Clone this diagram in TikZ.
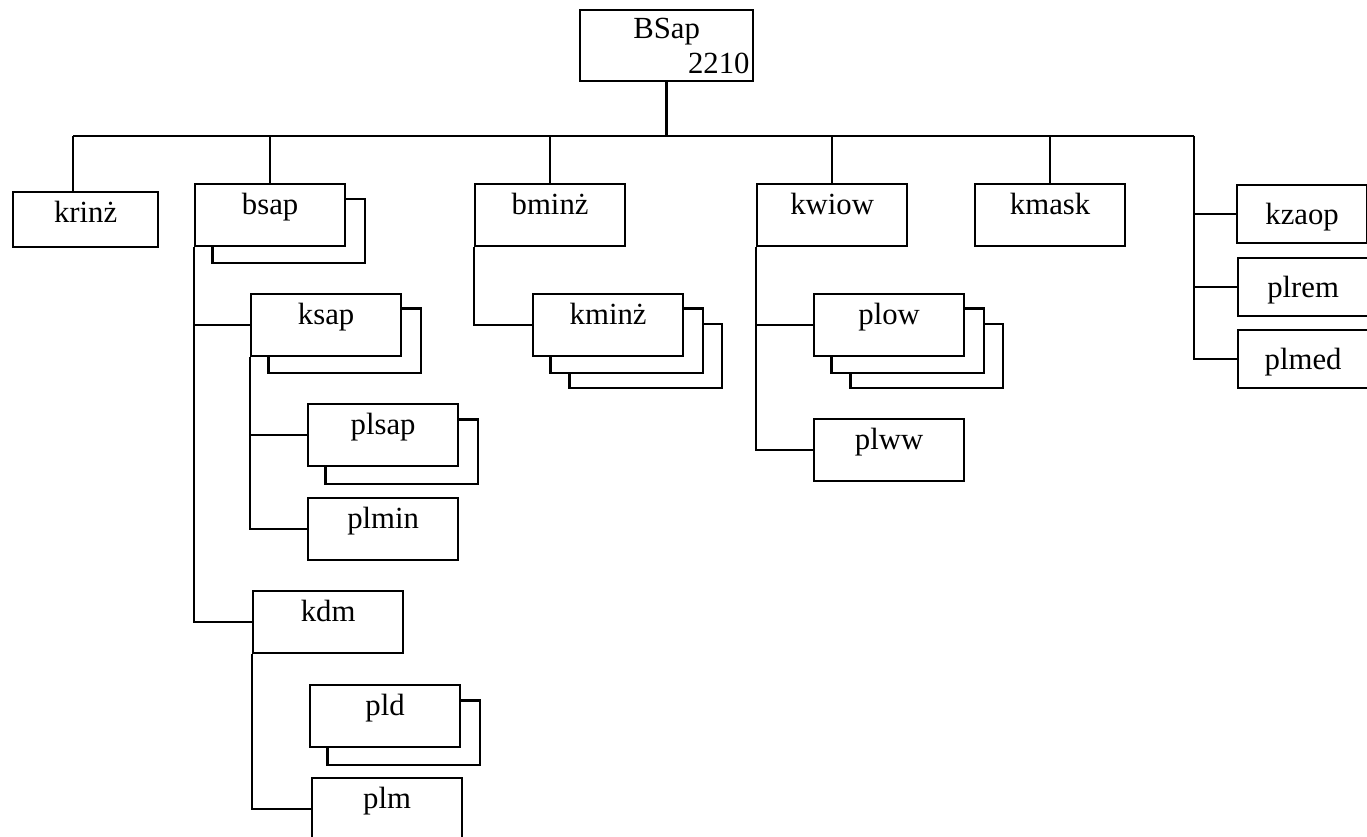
\documentclass[tikz,border=0pt]{standalone}
\usepackage{fontspec}
\setmainfont{Liberation Serif}
\usetikzlibrary{backgrounds}

\begin{document}
\begin{tikzpicture}[
    x=0.02cm, y=-0.02cm,
    line width=1.3pt,
    every node/.style={font=\fontsize{17.5}{19}\selectfont},
    unit/.style={rectangle, draw=black, fill=white, anchor=north west, inner sep=0pt, minimum width=3cm, minimum height=1.24cm, text height=0.6cm, text depth=0.64cm},
    rootbox/.style={unit, minimum width=3.46cm, minimum height=1.42cm, text height=0.56cm, text depth=0.86cm},
    sidebox/.style={unit, minimum width=2.6cm, minimum height=1.16cm, text height=0.78cm, text depth=0.38cm},
    copybox/.style={draw=black, fill=white, line width=1.3pt}
]
    \useasboundingbox (0,0) rectangle (1367,837);
    \clip (0,0) rectangle (1367,837);

    \node[rootbox, label={[anchor=south east, inner xsep=2pt, inner ysep=4pt]south east:2210}] (root) at (579,9) {BSap};

    \node[unit, minimum width=2.9cm, minimum height=1.1cm, text depth=0.5cm] (krinz) at (12,191) {krinż};
    \node[unit] (bsap) at (194,183) {bsap};
    \node[unit] (bminz) at (474,183) {bminż};
    \node[unit] (kwiow) at (756,183) {kwiow};
    \node[unit] (kmask) at (974,183) {kmask};
    \node[sidebox] (kzaop) at (1236,184) {kzaop};
    \node[sidebox] (plrem) at (1237,257) {plrem};
    \node[sidebox] (plmed) at (1237,329) {plmed};

    \node[unit] (ksap) at (250,293) {ksap};
    \node[unit] (plsap) at (307,403) {plsap};
    \node[unit] (plmin) at (307,497) {plmin};
    \node[unit] (kdm) at (252,590) {kdm};
    \node[unit] (pld) at (309,684) {pld};
    \node[unit] (plm) at (311,777) {plm};

    \node[unit] (kminz) at (532,293) {kminż};
    \node[unit] (plow) at (813,293) {plow};
    \node[unit] (plww) at (813,418) {plww};

    % stacked copies behind the boxes
    \begin{scope}[on background layer]
        \draw[copybox] ([shift={(18.5,16)}]bsap.north west) rectangle ([shift={(18.5,16)}]bsap.south east);
        \draw[copybox] ([shift={(18.5,15.5)}]ksap.north west) rectangle ([shift={(18.5,15.5)}]ksap.south east);
        \draw[copybox] ([shift={(18.5,16.5)}]plsap.north west) rectangle ([shift={(18.5,16.5)}]plsap.south east);
        \draw[copybox] ([shift={(18.5,16.5)}]pld.north west) rectangle ([shift={(18.5,16.5)}]pld.south east);
        \draw[copybox] ([shift={(37.5,31)}]kminz.north west) rectangle ([shift={(37.5,31)}]kminz.south east);
        \draw[copybox] ([shift={(18.5,15.5)}]kminz.north west) rectangle ([shift={(18.5,15.5)}]kminz.south east);
        \draw[copybox] ([shift={(37.5,31)}]plow.north west) rectangle ([shift={(37.5,31)}]plow.south east);
        \draw[copybox] ([shift={(18.5,15.5)}]plow.north west) rectangle ([shift={(18.5,15.5)}]plow.south east);
    \end{scope}

    % main bus
    \coordinate (busL) at (73,136);
    \coordinate (busR) at (1194,136);
    \draw (busL) -- (busR);
    \draw (root.south) -- (root.south |- busL);
    \draw (busL) -- (busL |- krinz.north);
    \draw (bsap.north) -- (bsap.north |- busL);
    \draw (bminz.north) -- (bminz.north |- busL);
    \draw (kwiow.north) -- (kwiow.north |- busL);
    \draw (kmask.north) -- (kmask.north |- busL);

    % right column
    \draw (busR) |- (plmed.west);
    \draw (busR |- kzaop.west) -- (kzaop.west);
    \draw (busR |- plrem.west) -- (plrem.west);

    % bsap branch
    \draw (bsap.south west) |- (kdm.west);
    \draw (bsap.south west |- ksap.west) -- (ksap.west);
    \draw (ksap.south west) |- (plmin.west);
    \draw (ksap.south west |- plsap.west) -- (plsap.west);
    \draw (kdm.south west) |- (plm.west);

    % bminz and kwiow branches
    \draw (bminz.south west) |- (kminz.west);
    \draw (kwiow.south west) |- (plww.west);
    \draw (kwiow.south west |- plow.west) -- (plow.west);
\end{tikzpicture}
\end{document}
